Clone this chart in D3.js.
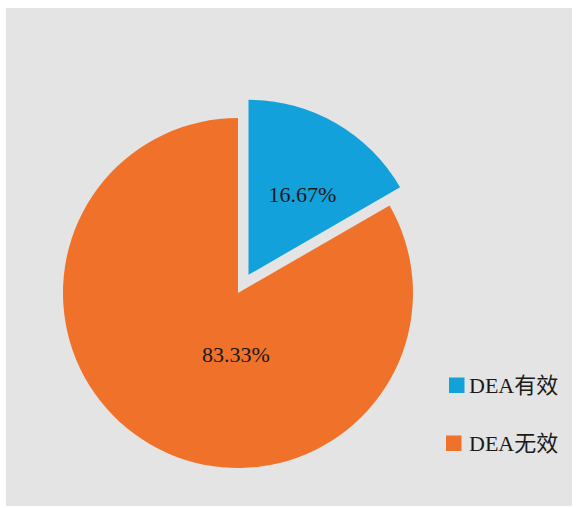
<!DOCTYPE html>
<html><head><meta charset="utf-8">
<script src="https://cdn.jsdelivr.net/npm/d3@7/dist/d3.min.js"></script>
<style>body{margin:0;background:#fff;}svg{display:block;}
.t{font-family:"Liberation Serif","DejaVu Serif","Noto Sans CJK SC",serif;}</style>
</head><body>
<svg id="c" width="576" height="508"></svg>
<script>
const categories = ["DEA有效", "DEA无效"];
const values = [16.67, 83.33];
const labels = ["16.67%", "83.33%"];
const colors = ["#12a1da", "#f0712a"];

const svg = d3.select("#c");
svg.append("rect").attr("x", 6).attr("y", 8).attr("width", 566).attr("height", 498).attr("fill", "#e4e4e4");

const cx = 238, cy = 293, R = 175;
const pie = d3.pie().sort(null).value(d => d)(values);
const arc = d3.arc().innerRadius(0).outerRadius(R);
const g = svg.append("g").attr("transform", `translate(${cx},${cy})`);
const explode = [21, 0];
const labelPos = [[54, -80], [-2, 61]];

pie.forEach((p, i) => {
  const mid = (p.startAngle + p.endAngle) / 2;
  const dx = Math.sin(mid) * explode[i], dy = -Math.cos(mid) * explode[i];
  const sg = g.append("g").attr("transform", `translate(${dx},${dy})`);
  sg.append("path").attr("d", arc(p)).attr("fill", colors[i]);
  sg.append("text").attr("class", "t").attr("x", labelPos[i][0]).attr("y", labelPos[i][1])
    .attr("text-anchor", "middle").attr("dominant-baseline", "central")
    .attr("font-size", 22)
    .attr("fill", "#1a1a1a").text(labels[i]);
});

const legend = svg.append("g");
const ly = [385, 443];
const lx = [449, 446];
categories.forEach((c, i) => {
  legend.append("rect").attr("x", lx[i]).attr("y", ly[i] - 7.5).attr("width", 15.5).attr("height", 15.5).attr("fill", colors[i]);
  legend.append("text").attr("class", "t").attr("x", lx[i] + 20 + (i ? 3 : 0)).attr("y", ly[i] + 8)
    .attr("font-size", 22)
    .attr("fill", "#1a1a1a").text(c);
});
</script>
</body></html>
